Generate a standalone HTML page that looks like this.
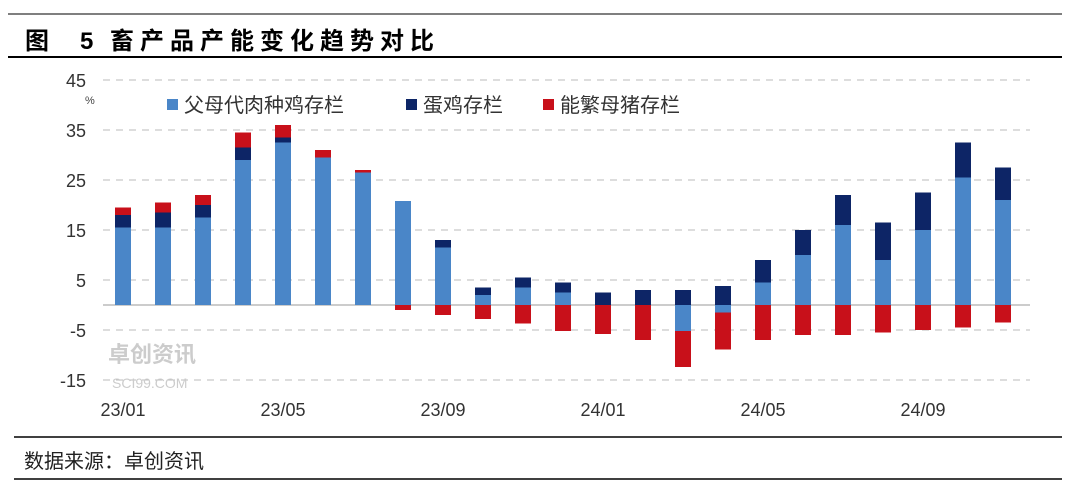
<!DOCTYPE html>
<html><head><meta charset="utf-8"><style>
body{margin:0;background:#fff;width:1073px;height:489px;overflow:hidden;font-family:"Liberation Sans","Noto Sans CJK SC",sans-serif;}
</style></head><body>
<svg width="1073" height="489" xmlns="http://www.w3.org/2000/svg">
<line x1="8" y1="14" x2="1062" y2="14" stroke="#555" stroke-width="1.5"/>
<g font-size="24" font-weight="bold" font-family="Liberation Sans,Noto Sans CJK SC,sans-serif">
<text x="25" y="49">图</text>
<text x="80" y="49">5</text>
<text x="110" y="49" letter-spacing="6">畜产品产能变化趋势对比</text>
</g>
<line x1="8" y1="57" x2="1062" y2="57" stroke="#000" stroke-width="2"/>
<g id="grid"></g>
<g id="bars"></g>
<g id="labels"></g>
<text x="85" y="104" font-size="11" fill="#444">%</text>
<g font-size="20" fill="#333">
<rect x="167" y="99" width="11" height="11" fill="#4a86c8"/>
<text x="184" y="112">父母代肉种鸡存栏</text>
<rect x="406" y="99" width="11" height="11" fill="#0d2566"/>
<text x="423" y="112">蛋鸡存栏</text>
<rect x="543" y="99" width="11" height="11" fill="#c8101a"/>
<text x="560" y="112">能繁母猪存栏</text>
</g>
<text x="108" y="362" font-size="22" font-weight="bold" fill="#ccc">卓创资讯</text>
<text x="112" y="388" font-size="14" fill="#ccc">SCI99.COM</text>
<line x1="14" y1="437" x2="1062" y2="437" stroke="#000" stroke-width="1.5"/>
<text x="24" y="468" font-size="20" fill="#222">数据来源：卓创资讯</text>
<line x1="14" y1="479" x2="1062" y2="479" stroke="#000" stroke-width="1.5"/>
</svg>
<script>
const months=["23/01","23/02","23/03","23/04","23/05","23/06","23/07","23/08","23/09","23/10","23/11","23/12","24/01","24/02","24/03","24/04","24/05","24/06","24/07","24/08","24/09","24/10","24/11"];
const parentStock=[15.5,15.5,17.5,29,32.5,29.5,26.5,20.8,11.5,2,3.5,2.5,0,0,-5.2,-1.5,4.5,10,16,9,15,25.5,21];
const layerStock=[2.5,3,2.5,2.5,1,0,0,0,1.5,1.5,2,2,2.5,3,3,3.8,4.5,5,6,7.5,7.5,7,6.5];
const sowStock=[1.5,2,2,3,2.5,1.5,0.5,-1,-2,-2.8,-3.7,-5.2,-5.8,-7,-7.2,-7.4,-7,-6,-6,-5.5,-5,-4.5,-3.5];
const yTicks=[45,35,25,15,5,-5,-15];
const xLabels=["23/01","23/05","23/09","24/01","24/05","24/09"];
const NS="http://www.w3.org/2000/svg";
const y=v=>305-v*5;
const x=i=>123+i*40;
function mk(tag,attrs,parent){const e=document.createElementNS(NS,tag);for(const k in attrs)e.setAttribute(k,attrs[k]);parent.appendChild(e);return e;}
const grid=document.getElementById('grid'),bars=document.getElementById('bars'),labels=document.getElementById('labels');
yTicks.forEach(t=>{
  const l=mk('line',{x1:103,x2:1030,y1:y(t),y2:y(t),stroke:'#bbb','stroke-width':1,'stroke-dasharray':'7,6'},grid);
  
  
  const tx=mk('text',{x:86,y:y(t)+7,'font-size':18,fill:'#333','text-anchor':'end'},labels);
  tx.textContent=t;
  
  
});
const z=mk('line',{x1:103,x2:1030,y1:y(0),y2:y(0),stroke:'#bbb','stroke-width':1.5},grid);


const series=[[parentStock,'#4a86c8','bar-parent'],[layerStock,'#0d2566','bar-layer'],[sowStock,'#c8101a','bar-sow']];
months.forEach((m,i)=>{
  let pos=0,neg=0;
  series.forEach(([arr,col,name])=>{
    const v=arr[i];if(!v)return;
    let a,b;
    if(v>0){a=pos;b=pos+v;pos=b;}else{a=neg;b=neg+v;neg=b;}
    const top=y(Math.max(a,b)),h=Math.abs(y(a)-y(b));
    const r=mk('rect',{x:x(i)-8,y:top,width:16,height:h,fill:col},bars);
    
    
  });
});
xLabels.forEach(lb=>{
  const i=months.indexOf(lb);
  const t=mk('text',{x:x(i),y:416,'font-size':18,fill:'#333','text-anchor':'middle'},labels);
  t.textContent=lb;
  
  
});
</script>
</body></html>
